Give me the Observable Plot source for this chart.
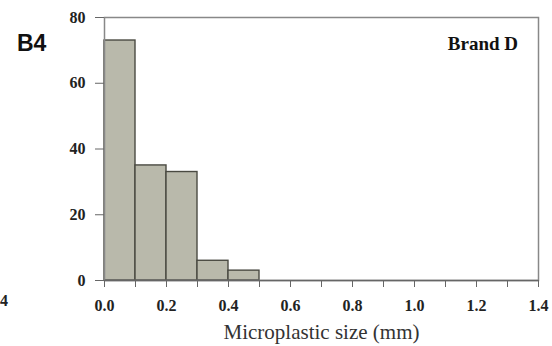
<!DOCTYPE html>
<html>
<head>
<meta charset="utf-8">
<script src="https://cdn.jsdelivr.net/npm/d3@7"></script>
<script src="https://cdn.jsdelivr.net/npm/@observablehq/plot@0.6"></script>
<style>
  html, body { margin: 0; padding: 0; background: #fff; }
  #wrap { position: relative; width: 552px; height: 346px; overflow: hidden; }
  #panel { position: absolute; left: 17px; top: 30px; font: bold 23px "Liberation Sans", Arial, sans-serif; color: #111; }
  #brand { position: absolute; right: 34px; top: 33px; font: bold 19px "Liberation Serif", "Times New Roman", serif; color: #111; }
  #frag { position: absolute; left: 0px; top: 292px; font: bold 16px "Liberation Serif", serif; color: #222; }
</style>
</head>
<body>
<div id="wrap">
  <div id="chart"></div>
  <div id="panel">B4</div>
  <div id="brand">Brand D</div>
  <div id="frag">4</div>
</div>
<script>
const binStart = [0.0, 0.1, 0.2, 0.3, 0.4];
const binEnd = [0.1, 0.2, 0.3, 0.4, 0.5];
const counts = [73, 35, 33, 6, 3];
const xTicks = [0, 0.1, 0.2, 0.3, 0.4, 0.5, 0.6, 0.7, 0.8, 0.9, 1.0, 1.1, 1.2, 1.3, 1.4];
const xLabeled = [0, 0.2, 0.4, 0.6, 0.8, 1.0, 1.2, 1.4];
const yTicks = [0, 20, 40, 60, 80];

const bins = binStart.map((s, i) => ({x1: s, x2: binEnd[i], y: counts[i]}));

const serif = '"Liberation Serif", "Times New Roman", serif';
const chart = Plot.plot({
  width: 552,
  height: 346,
  marginLeft: 104,
  marginRight: 14,
  marginTop: 17,
  marginBottom: 66,
  style: {fontFamily: serif, fontSize: "16px", background: "white"},
  x: {domain: [0, 1.4]},
  y: {domain: [0, 80]},
  marks: [
    Plot.rectY(bins, {x1: "x1", x2: "x2", y: "y", fill: "#b9b9ab", stroke: "#4a4a42", strokeWidth: 1.4}),
    Plot.frame({stroke: "#888", strokeWidth: 1.5}),
    Plot.ruleY([0], {stroke: "#666", strokeWidth: 1.5}),
    Plot.axisX({ticks: xTicks, tickSize: 7, tickPadding: 12, stroke: "#666",
      tickFormat: d => xLabeled.some(v => Math.abs(v - d) < 1e-9) ? d.toFixed(1) : "",
      label: null, fill: "#222", fontSize: 16, fontWeight: "bold"}),
    Plot.axisY({ticks: yTicks, tickSize: 9, tickPadding: 10, stroke: "#666",
      label: null, fill: "#222", fontSize: 16, fontWeight: "bold"}),
    Plot.text(["Microplastic size (mm)"], {frameAnchor: "bottom", dy: 58, dx: 0, fontSize: 21, fill: "#333", text: d => d, textAnchor: "middle"})
  ]
});
document.getElementById("chart").appendChild(chart);
</script>
</body>
</html>
